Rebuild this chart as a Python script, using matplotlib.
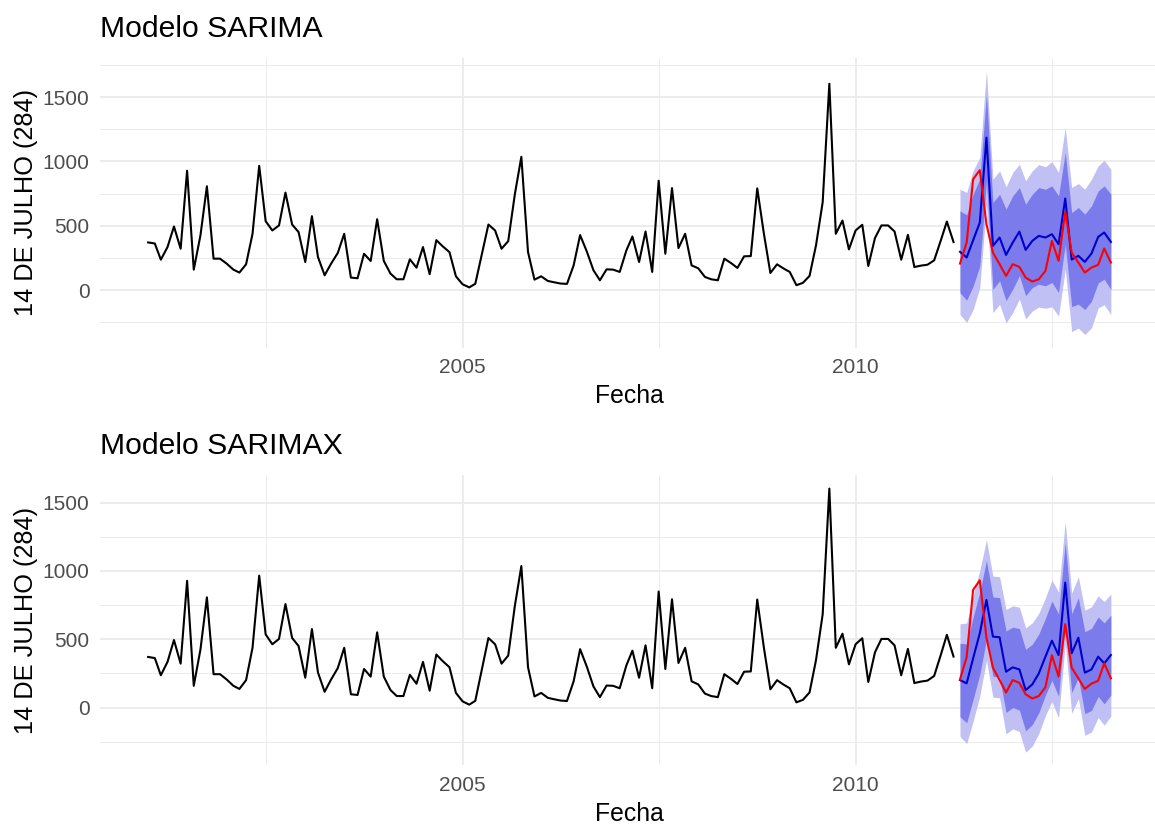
import numpy as np
import pandas as pd
import matplotlib
matplotlib.use("Agg")
import matplotlib.pyplot as plt
import matplotlib.dates as mdates
from matplotlib.ticker import MultipleLocator, FixedLocator

plt.rcParams['font.family'] = ['Liberation Sans', 'DejaVu Sans']

# ---- data ----
history = [371, 363, 237, 335, 495, 322, 928, 160, 425, 807, 245, 245,
           206, 160, 137, 201, 438, 966, 536, 464, 503, 758, 510, 451,
           219, 575, 258, 116, 206, 289, 438, 98, 93, 283, 227, 551,
           227, 129, 85, 85, 240, 175, 335, 124, 389, 340, 296, 108,
           46, 22, 50, 283, 510, 464, 322, 381, 747, 1036, 296, 82,
           108, 72, 62, 52, 49, 193, 428, 301, 155, 77, 162, 160,
           142, 309, 417, 219, 456, 142, 850, 283, 793, 327, 438, 193,
           170, 103, 85, 77, 245, 211, 173, 263, 265, 791, 438, 134,
           201, 168, 142, 39, 57, 111, 348, 683, 1603, 438, 541, 317,
           464, 508, 188, 405, 503, 503, 456, 237, 430, 180, 191, 198,
           232, 387, 533, 374]

actual = [207, 370, 862, 932, 512, 292, 202, 111, 202, 181, 98, 67,
          85, 150, 383, 228, 611, 292, 215, 137, 176, 197, 324, 215]

sarima_mean = [298, 254, 388, 525, 1185, 344, 409, 274, 370, 455, 313, 383,
               422, 409, 435, 357, 712, 238, 267, 220, 285, 414, 448, 375]
sarima_hi95 = [784, 758, 927, 1030, 1703, 862, 927, 802, 914, 978, 849, 927,
               975, 958, 999, 914, 1263, 797, 828, 784, 862, 965, 1009, 939]
sarima_lo95 = [-188, -250, -151, 20, 667, -174, -109, -254, -174, -68, -223, -161,
               -131, -140, -129, -200, 161, -321, -294, -344, -292, -137, -113, -189]
sarima_hi80 = [616, 585, 745, 862, 1520, 681, 745, 629, 732, 797, 668, 745,
               797, 784, 810, 732, 1069, 603, 642, 590, 655, 771, 810, 745]
sarima_lo80 = [-20, -77, 31, 188, 850, 7, 73, -81, 8, 113, -42, 21,
               47, 34, 60, -18, 355, -127, -108, -150, -85, 57, 86, 5]

sarimax_mean = [202, 178, 361, 544, 788, 520, 515, 263, 295, 280, 129, 170,
                250, 373, 490, 385, 915, 398, 512, 256, 280, 373, 324, 385]
sarimax_hi95 = [614, 619, 821, 1004, 1228, 963, 958, 718, 745, 735, 584, 620,
                690, 803, 934, 845, 1361, 838, 958, 714, 738, 818, 776, 832]
sarimax_lo95 = [-210, -263, -99, 84, 348, 77, 72, -192, -155, -175, -326, -280,
                -190, -57, 46, -75, 469, -42, 66, -202, -178, -72, -128, -62]
sarimax_hi80 = [471, 466, 662, 845, 1076, 810, 805, 561, 589, 578, 427, 464,
                538, 654, 780, 686, 1207, 686, 804, 556, 580, 664, 620, 677]
sarimax_lo80 = [-67, -110, 60, 243, 500, 230, 225, -35, 1, -18, -169, -124,
                -38, 92, 200, 84, 623, 110, 220, -44, -20, 82, 28, 93]

titles = ["Modelo SARIMA", "Modelo SARIMAX"]
ylabel = "14 DE JULHO (284)"
xlabel = "Fecha"

hist_dates = pd.date_range('2001-01-01', periods=len(history), freq='MS')
fc_dates = pd.date_range('2011-05-01', periods=len(actual), freq='MS')

LIGHT = '#C0C0F4'
DARK = '#7B7BEC'
BLUE = '#0000CC'
GRID = '#EBEBEB'

W, H = 1155, 824
fig = plt.figure(figsize=(W / 100, H / 100), dpi=100)

x0 = mdates.date2num(hist_dates[0])
x1 = mdates.date2num(fc_dates[-1])
xspan = x1 - x0
minor_x = [mdates.date2num(pd.Timestamp(d)) for d in ['2002-07-01', '2007-07-01', '2012-07-01']]


def panel(top_px, title, mean, lo95, hi95, lo80, hi80):
    ax = fig.add_axes([100 / W, 1 - (top_px + 290) / H, 1059 / W, 290 / H])
    ax.fill_between(fc_dates, lo95, hi95, color=LIGHT, lw=0)
    ax.fill_between(fc_dates, lo80, hi80, color=DARK, lw=0)
    ax.plot(hist_dates, history, color='black', lw=1.5)
    ax.plot(fc_dates, mean, color=BLUE, lw=1.5)
    ax.plot(fc_dates, actual, color='red', lw=1.5)

    ymin = min(min(history), min(actual), min(lo95), min(mean))
    ymax = max(max(history), max(actual), max(hi95), max(mean))
    yspan = ymax - ymin
    ax.set_ylim(ymin - 0.05 * yspan, ymax + 0.05 * yspan)
    ax.set_xlim(x0 - 0.05 * xspan, x1 + 0.05 * xspan)

    ax.xaxis.set_major_locator(mdates.YearLocator(5))
    ax.xaxis.set_major_formatter(mdates.DateFormatter('%Y'))
    ax.xaxis.set_minor_locator(FixedLocator(minor_x))
    ax.yaxis.set_major_locator(MultipleLocator(500))
    ax.yaxis.set_minor_locator(MultipleLocator(250))

    ax.grid(which='major', color=GRID, lw=1.3)
    ax.grid(which='minor', color=GRID, lw=0.65)
    ax.set_axisbelow(True)
    for s in ax.spines.values():
        s.set_visible(False)
    ax.tick_params(which='both', length=0, labelsize=15, labelcolor='#4D4D4D')
    ax.tick_params(axis='x', pad=7.5)
    ax.tick_params(axis='y', pad=7.6)
    ax.set_xlabel(xlabel, fontsize=17.8, labelpad=5)
    ax.set_ylabel(ylabel, fontsize=18.3, labelpad=3.3)
    fig.text(100 / W, 1 - (top_px - 21) / H, title, fontsize=21.7, va='baseline', ha='left')
    return ax


panel(57.7, titles[0], sarima_mean, sarima_lo95, sarima_hi95, sarima_lo80, sarima_hi80)
panel(475.4, titles[1], sarimax_mean, sarimax_lo95, sarimax_hi95, sarimax_lo80, sarimax_hi80)

fig.savefig('out.png', dpi=100)
